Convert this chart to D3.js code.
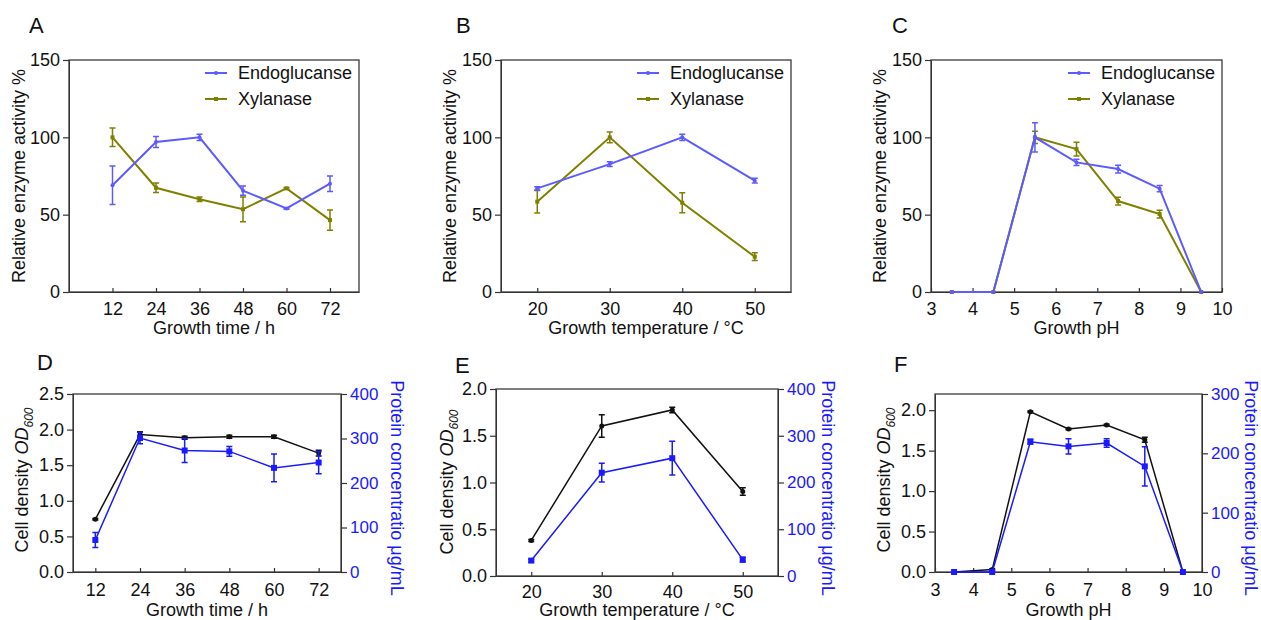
<!DOCTYPE html>
<html>
<head>
<meta charset="utf-8">
<script src="https://cdn.jsdelivr.net/npm/d3@7"></script>
<style>
  body { margin: 0; background: #fff; }
  svg text { font-family: "Liberation Sans", Arial, sans-serif; fill: #111; }
</style>
</head>
<body>
<svg id="fig" width="1261" height="620"></svg>
<script>
// ---- data ----
const timeH = [12, 24, 36, 48, 60, 72];
const tempC = [20, 30, 40, 50];
const phVals = [3.5, 4.5, 5.5, 6.5, 7.5, 8.5, 9.5];

// top row: relative enzyme activity %
const endoTime = [69, 97, 100, 65.5, 54, 70];
const endoTimeErr = [12.5, 3.5, 2, 3, 0.5, 5];
const xylTime = [100, 67.4, 60, 53.5, 67, 46.5];
const xylTimeErr = [6, 3, 1.5, 8, 0.5, 6.5];

const endoTemp = [67, 82.7, 100, 72];
const endoTempErr = [1, 1.5, 2, 1.5];
const xylTemp = [58.4, 100, 57.7, 22.8];
const xylTempErr = [7.3, 3.5, 6.5, 2.5];

const endoPh = [0, 0, 100, 83.8, 79.5, 66.8, 0];
const endoPhErr = [0, 0, 9.5, 2, 2.5, 2, 0];
const xylPh = [0, 0, 100, 92.4, 58.8, 50.4, 0];
const xylPhErr = [0, 0, 4, 4.5, 2.5, 2.5, 0];

// bottom row: OD600 (left axis) and protein ug/mL (right axis)
const odTime = [0.74, 1.93, 1.885, 1.9, 1.9, 1.67];
const odTimeErr = [0.01, 0.04, 0.02, 0.02, 0.02, 0.04];
const protTime = [72, 301, 273, 271, 234, 246];
const protTimeErr = [17, 13, 27, 11, 31, 25];

const odTemp = [0.38, 1.605, 1.776, 0.904];
const odTempErr = [0.01, 0.12, 0.03, 0.04];
const protTemp = [33, 221, 252, 35];
const protTempErr = [3, 20, 36, 5];

const odPh = [0, 0.03, 1.98, 1.768, 1.817, 1.635, 0];
const odPhErr = [0, 0.01, 0.01, 0.01, 0.01, 0.03, 0];
const protPh = [0, 0, 219.6, 211.7, 217.4, 178, 0];
const protPhErr = [0, 0, 4, 13, 7, 33, 0];

const ENDO = "#5b5bff";
const XYL = "#808000";
const PROT = "#1a1aff";
const FONT = "Liberation Sans, Arial, sans-serif";

const svg = d3.select("#fig");

function styleAxis(ax, size, color) {
  ax.attr("font-size", size).attr("font-family", FONT).attr("color", "#333");
  ax.selectAll("line").attr("stroke-width", 1.2);
  ax.selectAll("text").style("fill", color || "#111");
}

function drawPanel(p) {
  const [L, T, R, B] = p.box;
  const x = d3.scaleLinear().domain(p.xDomain).range([L, R]);
  const y = d3.scaleLinear().domain(p.yDomain).range([B, T]);
  const y2 = p.y2Domain ? d3.scaleLinear().domain(p.y2Domain).range([B, T]) : null;
  const g = svg.append("g");

  g.append("rect")
    .attr("x", L).attr("y", T)
    .attr("width", R - L).attr("height", B - T)
    .attr("fill", "none").attr("stroke", "#3a3a3a").attr("stroke-width", 1.3);

  const yAxisG = g.append("g").attr("transform", `translate(${L},0)`)
    .call(d3.axisLeft(y).tickValues(p.yTicks).tickFormat(p.yFmt)
      .tickSizeInner(6).tickSizeOuter(0).tickPadding(3));
  styleAxis(yAxisG, 18);

  const xAxisG = g.append("g").attr("transform", `translate(0,${B})`)
    .call(d3.axisBottom(x).tickValues(p.xTicks).tickFormat(d3.format("d"))
      .tickSizeInner(-4).tickSizeOuter(0).tickPadding(p.xPad));
  styleAxis(xAxisG, 18);

  if (y2) {
    const y2AxisG = g.append("g").attr("transform", `translate(${R},0)`)
      .call(d3.axisRight(y2).tickValues(p.y2Ticks).tickFormat(d3.format("d"))
        .tickSizeInner(6).tickSizeOuter(0).tickPadding(3));
    styleAxis(y2AxisG, 17, PROT);
  }

  // lines, error bars, markers
  p.series.forEach((s) => {
    const ys = s.right ? y2 : y;
    const pts = p.xs.map((xv, i) => ({ x: xv, v: s.values[i], e: s.errors[i] }));
    g.append("path").datum(pts)
      .attr("d", d3.line().x((d) => x(d.x)).y((d) => ys(d.v)))
      .attr("fill", "none").attr("stroke", s.color).attr("stroke-width", s.width);

    g.selectAll(null).data(pts.filter((d) => d.e > 0)).enter().append("path")
      .attr("d", (d) => {
        const cx = x(d.x), yt = ys(d.v + d.e), yb = ys(d.v - d.e);
        return `M${cx - 3},${yt}H${cx + 3}M${cx},${yt}V${yb}M${cx - 3},${yb}H${cx + 3}`;
      })
      .attr("fill", "none").attr("stroke", s.color).attr("stroke-width", 1.5);

    if (s.marker === "square") {
      g.selectAll(null).data(pts).enter().append("rect")
        .attr("x", (d) => x(d.x) - s.size / 2).attr("y", (d) => ys(d.v) - s.size / 2)
        .attr("width", s.size).attr("height", s.size).attr("fill", s.color);
    } else {
      g.selectAll(null).data(pts).enter().append("circle")
        .attr("cx", (d) => x(d.x)).attr("cy", (d) => ys(d.v))
        .attr("r", s.size / 2).attr("fill", s.color);
    }
  });

  // panel letter
  g.append("text").attr("x", p.letter[1]).attr("y", p.letter[2])
    .attr("font-size", 22).text(p.letter[0]);

  // x title
  g.append("text").attr("x", (L + R) / 2).attr("y", p.xTitleY)
    .attr("text-anchor", "middle").attr("font-size", 18).text(p.xLabel);

  // left y title
  const yt = g.append("text")
    .attr("transform", `translate(${p.yTitleX},${p.yTitleC}) rotate(-90)`)
    .attr("text-anchor", "middle").attr("font-size", 18);
  if (p.odLabel) {
    yt.append("tspan").text("Cell density ");
    yt.append("tspan").attr("font-style", "italic").text("OD");
    yt.append("tspan").attr("font-style", "italic").attr("font-size", 12).attr("dy", 5).text("600");
  } else {
    yt.text(p.yLabel);
  }

  // right y title
  if (y2) {
    g.append("text")
      .attr("transform", `translate(${p.y2TitleX},488) rotate(90)`)
      .attr("text-anchor", "middle").attr("font-size", 18)
      .style("fill", PROT).text("Protein concentratio μg/mL");
  }

  // legend
  if (p.legendX) {
    p.series.slice().reverse().forEach((s, i) => {
      const ly = 73 + i * 26;
      g.append("line").attr("x1", p.legendX).attr("x2", p.legendX + 22)
        .attr("y1", ly).attr("y2", ly).attr("stroke", s.color).attr("stroke-width", s.width);
      if (s.marker === "square") {
        g.append("rect").attr("x", p.legendX + 9).attr("y", ly - 2).attr("width", 4).attr("height", 4).attr("fill", s.color);
      } else {
        g.append("circle").attr("cx", p.legendX + 11).attr("cy", ly).attr("r", 2).attr("fill", s.color);
      }
      g.append("text").attr("x", p.legendX + 33).attr("y", ly).attr("dy", "0.35em")
        .attr("font-size", 18).text(s.name);
    });
  }
}

const enzymeSeries = (xv, xe, ev, ee) => [
  { name: "Xylanase", values: xv, errors: xe, color: XYL, width: 2, marker: "square", size: 4 },
  { name: "Endoglucanse", values: ev, errors: ee, color: ENDO, width: 2, marker: "circle", size: 4 },
];
const growthSeries = (ov, oe, pv, pe) => [
  { values: ov, errors: oe, color: "#111", width: 1.5, marker: "circle", size: 5 },
  { values: pv, errors: pe, color: PROT, width: 1.5, marker: "square", size: 6, right: true },
];

const relTicks = [0, 50, 100, 150];
const relFmt = d3.format("d");

drawPanel({
  box: [69, 60, 359, 292], xs: timeH, xDomain: [0, 80], xTicks: timeH, xPad: 10,
  yDomain: [0, 150], yTicks: relTicks, yFmt: relFmt,
  series: enzymeSeries(xylTime, xylTimeErr, endoTime, endoTimeErr),
  letter: ["A", 29, 33], xLabel: "Growth time / h", xTitleY: 334,
  yLabel: "Relative enzyme activity %", yTitleX: 25, yTitleC: 176, legendX: 205,
});
drawPanel({
  box: [501, 60, 791, 292], xs: tempC, xDomain: [15, 55], xTicks: tempC, xPad: 10,
  yDomain: [0, 150], yTicks: relTicks, yFmt: relFmt,
  series: enzymeSeries(xylTemp, xylTempErr, endoTemp, endoTempErr),
  letter: ["B", 456, 33], xLabel: "Growth temperature / °C", xTitleY: 334,
  yLabel: "Relative enzyme activity %", yTitleX: 456, yTitleC: 176, legendX: 637,
});
drawPanel({
  box: [931, 60, 1222, 292], xs: phVals, xDomain: [3, 10], xTicks: d3.range(3, 11), xPad: 10,
  yDomain: [0, 150], yTicks: relTicks, yFmt: relFmt,
  series: enzymeSeries(xylPh, xylPhErr, endoPh, endoPhErr),
  letter: ["C", 892, 33], xLabel: "Growth pH", xTitleY: 334,
  yLabel: "Relative enzyme activity %", yTitleX: 886, yTitleC: 176, legendX: 1068,
});

drawPanel({
  box: [73, 394, 341, 572], xs: timeH, xDomain: [6, 78], xTicks: timeH, xPad: 11,
  yDomain: [0, 2.5], yTicks: [0, 0.5, 1, 1.5, 2, 2.5], yFmt: d3.format(".1f"),
  y2Domain: [0, 400], y2Ticks: [0, 100, 200, 300, 400],
  series: growthSeries(odTime, odTimeErr, protTime, protTimeErr),
  letter: ["D", 37, 370], xLabel: "Growth time / h", xTitleY: 616,
  odLabel: true, yTitleX: 28, yTitleC: 480, y2TitleX: 391,
});
drawPanel({
  box: [496, 389, 778, 576], xs: tempC, xDomain: [15, 55], xTicks: tempC, xPad: 9,
  yDomain: [0, 2], yTicks: [0, 0.5, 1, 1.5, 2], yFmt: d3.format(".1f"),
  y2Domain: [0, 400], y2Ticks: [0, 100, 200, 300, 400],
  series: growthSeries(odTemp, odTempErr, protTemp, protTempErr),
  letter: ["E", 455, 373], xLabel: "Growth temperature / °C", xTitleY: 616,
  odLabel: true, yTitleX: 453, yTitleC: 482, y2TitleX: 822,
});
drawPanel({
  box: [935, 394, 1202, 572], xs: phVals, xDomain: [3, 10], xTicks: d3.range(3, 11), xPad: 11,
  yDomain: [0, 2.2], yTicks: [0, 0.5, 1, 1.5, 2], yFmt: d3.format(".1f"),
  y2Domain: [0, 300], y2Ticks: [0, 100, 200, 300],
  series: growthSeries(odPh, odPhErr, protPh, protPhErr),
  letter: ["F", 894, 372], xLabel: "Growth pH", xTitleY: 616,
  odLabel: true, yTitleX: 890, yTitleC: 480, y2TitleX: 1245,
});
</script>
</body>
</html>
